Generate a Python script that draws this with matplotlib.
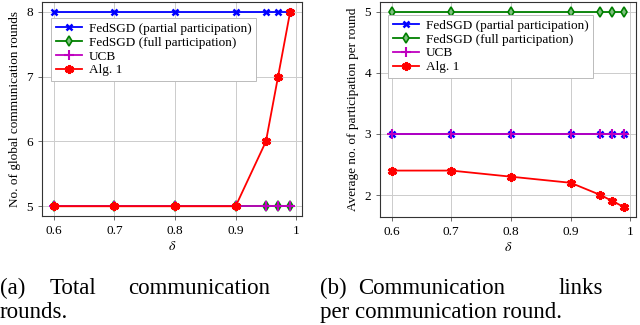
import matplotlib.pyplot as plt

plt.rcParams['font.family'] = ['Liberation Serif', 'DejaVu Serif']
plt.rcParams['mathtext.fontset'] = 'stix'

# data
delta = [0.6, 0.7, 0.8, 0.9, 0.95, 0.97, 0.99]
labels = ['FedSGD (partial participation)', 'FedSGD (full participation)', 'UCB', 'Alg. 1']

rounds_partial = [8, 8, 8, 8, 8, 8, 8]
rounds_full = [5, 5, 5, 5, 5, 5, 5]
rounds_ucb = [5, 5, 5, 5, 5, 5, 5]
rounds_alg1 = [5, 5, 5, 5, 6, 7, 8]

links_partial = [3, 3, 3, 3, 3, 3, 3]
links_full = [5, 5, 5, 5, 5, 5, 5]
links_ucb = [3, 3, 3, 3, 3, 3, 3]
links_alg1 = [2.4, 2.4, 2.3, 2.2, 2.0, 1.9, 1.8]

styles = [
    dict(color='#0000ff', marker='x', markersize=5, markeredgewidth=1.8),
    dict(color='#008000', marker='d', markersize=5.5, markerfacecolor='#80c080', markeredgewidth=1.2),
    dict(color='#bf00bf', marker='+', markersize=7, markeredgewidth=1.5),
    dict(color='#ff0000', marker=(6, 2, 0), markersize=6.5, markeredgewidth=2.2),
]

fig = plt.figure(figsize=(6.4, 3.25), dpi=100)
W, H = 640, 325


def px_axes(x0, y0, x1, y1):
    return fig.add_axes([x0 / W, 1 - y1 / H, (x1 - x0) / W, (y1 - y0) / H])


ax1 = px_axes(42, 2, 302, 216)
ax2 = px_axes(380, 2, 636, 217)

series1 = [rounds_partial, rounds_full, rounds_ucb, rounds_alg1]
series2 = [links_partial, links_full, links_ucb, links_alg1]

for ax, series in [(ax1, series1), (ax2, series2)]:
    for ys, lab, st in zip(series, labels, styles):
        ax.plot(delta, ys, label=lab, linewidth=1.3, **st)
    ax.set_xlim(0.5805, 1.0095)
    ax.set_xticks([0.6, 0.7, 0.8, 0.9, 1.0])
    ax.set_xticklabels(['0.6', '0.7', '0.8', '0.9', '1'])
    ax.grid(True, color='#cccccc', linewidth=0.7)
    ax.set_axisbelow(True)
    ax.tick_params(labelsize=9.5, length=3, width=0.6, color='#555555', direction='out')
    for s in ax.spines.values():
        s.set_linewidth(0.8)
        s.set_color('#333333')
    ax.set_xlabel(r'$\delta$', fontsize=10, labelpad=2)

ax1.set_ylim(4.85, 8.15)
ax1.set_yticks([5, 6, 7, 8])
ax1.set_ylabel('No. of global communication rounds', fontsize=9.5, labelpad=4)

ax2.set_ylim(1.64, 5.16)
ax2.set_yticks([2, 3, 4, 5])
ax2.set_ylabel('Average no. of participation per round', fontsize=9.5, labelpad=4)

for ax, anchor in [(ax1, (0.035, 0.925)), (ax2, (0.031, 0.94))]:
    leg = ax.legend(loc='upper left', bbox_to_anchor=anchor, fontsize=9.5,
                    handlelength=2.0, labelspacing=0.12, borderpad=0.35,
                    handletextpad=0.5, borderaxespad=0, fancybox=False,
                    framealpha=1, edgecolor='#bbbbbb')
    leg.get_frame().set_linewidth(0.7)

# captions, words placed to mimic justified text
cap = dict(fontsize=16.5, va='baseline', ha='left')
fig.text(0 / W, 1 - 294 / H, '(a)', **cap)
fig.text(50 / W, 1 - 294 / H, 'Total', **cap)
fig.text(128 / W, 1 - 294 / H, 'communication', **cap)
fig.text(0 / W, 1 - 318 / H, 'rounds.', **cap)
fig.text(320 / W, 1 - 294 / H, '(b)', **cap)
fig.text(358 / W, 1 - 294 / H, 'Communication', **cap)
fig.text(603 / W, 1 - 294 / H, 'links', fontsize=16.5, va='baseline', ha='right')
fig.text(320 / W, 1 - 318 / H, 'per communication round.', **cap)

fig.savefig('out.png', dpi=100)
